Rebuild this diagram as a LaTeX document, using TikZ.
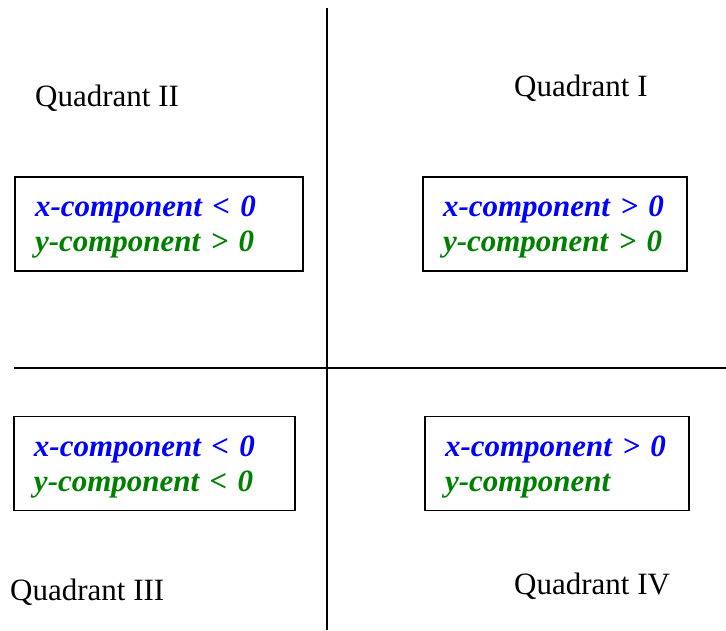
\documentclass[tikz,border=0pt]{standalone}
\usepackage{fontspec}
\setmainfont{Liberation Serif}
\usetikzlibrary{positioning}
\definecolor{xblue}{RGB}{0,0,255}
\definecolor{ygreen}{RGB}{0,128,0}

\begin{document}
\begin{tikzpicture}[x=1pt, y=-1pt]
  \tikzstyle{axis} = [line width = 1.5pt]
  \tikzstyle{quadName} = [inner sep = 0pt, anchor = west, font = \fontsize{31}{34}\selectfont]
  \tikzstyle{compBox} = [draw, line width = 1.3pt, inner xsep = 20pt, inner ysep = 0pt,
                         minimum height = 94pt, align = left,
                         execute at begin node = \rule{0pt}{27pt},
                         font = \fontsize{31}{35}\selectfont\bfseries\itshape]

  \useasboundingbox (0,0) rectangle (726,630);

  % Axes
  \coordinate (yTop) at (327,8);
  \coordinate (yBottom) at (327,630);
  \coordinate (xLeft) at (14,368);
  \coordinate (xRight) at (726,368);
  \draw[axis] (yTop) -- (yBottom);
  \draw[axis] (xLeft) -- (xRight);

  % Quadrant names
  \node[quadName] (nameI) at (514,88) {Quadrant I};
  \node[quadName] (nameII) at (35,98) {Quadrant II};
  \node[quadName] (nameIII) at (10,592) {Quadrant III};
  \node[quadName] (nameIV) at (514,586) {Quadrant IV};

  % Component boxes
  \node[compBox, text width = 224pt] (boxI) at (555,224)
    {\textcolor{xblue}{x-component > 0}\\\textcolor{ygreen}{y-component > 0}};
  \node[compBox, text width = 248pt] (boxII) at (159,224)
    {\textcolor{xblue}{x-component < 0}\\\textcolor{ygreen}{y-component > 0}};
  \node[compBox, text width = 241pt] (boxIII) at (154.5,463.5)
    {\textcolor{xblue}{x-component < 0}\\\textcolor{ygreen}{y-component < 0}};
  \node[compBox, text width = 224pt] (boxIV) at (557,463.5)
    {\textcolor{xblue}{x-component > 0}\\\textcolor{ygreen}{y-component}};

\end{tikzpicture}
\end{document}
